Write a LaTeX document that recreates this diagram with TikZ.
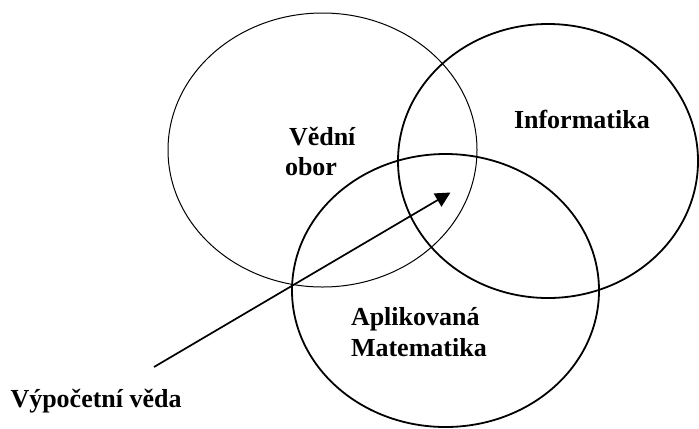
\documentclass[tikz,border=0pt]{standalone}
\usepackage{fontspec}
\setmainfont{Liberation Serif}
\usetikzlibrary{shapes.geometric,arrows.meta}
\tikzset{
  setellipse/.style={ellipse, draw=black, inner sep=0pt, outer sep=0pt},
  thinring/.style={setellipse, line width=1bp},
  thickring/.style={setellipse, line width=1.8bp},
  label/.style={anchor=base west, inner sep=0pt, outer sep=0pt,
    font=\bfseries\fontsize{26bp}{30bp}\selectfont},
  pointer/.style={line width=1.7bp, -{Triangle[length=15bp,width=15bp]}}
}
\begin{document}
\begin{tikzpicture}[x=1bp,y=-1bp]
\useasboundingbox (0,0) rectangle (699,428);
\node[thinring, minimum width=309bp, minimum height=274bp] (e1) at (322.5,150) {};
\node[thickring, minimum width=300bp, minimum height=274bp] (e2) at (548,161) {};
\node[thickring, minimum width=307bp, minimum height=273bp] (e3) at (445.5,290.5) {};
\node[label] (t1a) at (289,145) {Vědní};
\node[label] (t1b) at (285,175) {obor};
\node[label] (t2) at (514,128.3) {Informatika};
\node[label] (t3a) at (351,325) {Aplikovaná};
\node[label] (t3b) at (351,356) {Matematika};
\node[label] (t4) at (10.5,407.3) {Výpočetní věda};
\coordinate (s) at (154,367);
\coordinate (tip) at (450.5,192.5);
\draw[pointer] (s) -- (tip);
\end{tikzpicture}
\end{document}
